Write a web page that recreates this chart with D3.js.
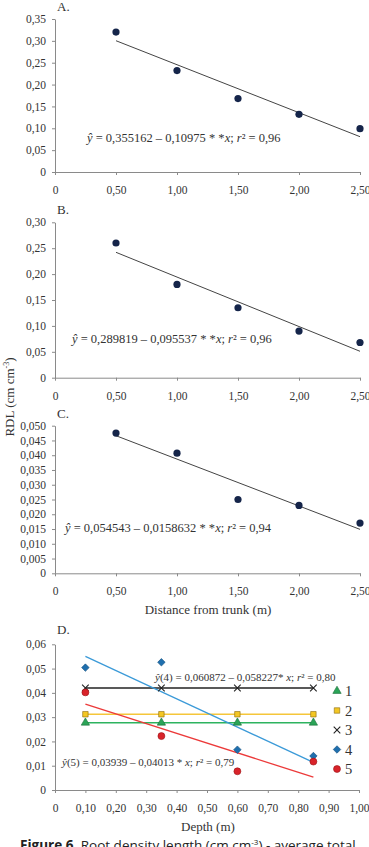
<!DOCTYPE html>
<html>
<head>
<meta charset="utf-8">
<script src="https://cdn.jsdelivr.net/npm/d3@7"></script>
<style>
  html, body { margin: 0; padding: 0; background: #fff; }
  svg { display: block; font-family: "Liberation Serif", "DejaVu Serif", serif; }
</style>
</head>
<body>
<div id="chart"></div>
<script>
// Distance from trunk (m) - panels A, B, C
const distancias = [0.5, 1.0, 1.5, 2.0, 2.5];
const rdlA = [0.320, 0.232, 0.168, 0.132, 0.099];
const rdlB = [0.260, 0.180, 0.135, 0.090, 0.068];
const rdlC = [0.0475, 0.0407, 0.0250, 0.0230, 0.0170];

// Coeficients de regressió (a - b*x)
const regA = [0.355162, 0.10975];
const regB = [0.289819, 0.095537];
const regC = [0.054543, 0.0158632];

// Panel D - Depth (m)
const profunditats = [0.10, 0.35, 0.60, 0.85];
const serie1 = [0.0277, 0.0277, 0.0277, 0.0277];
const serie2 = [0.0312, 0.0312, 0.0312, 0.0312];
const serie3 = [0.0420, 0.0420, 0.0420, 0.0420];
const serie4 = [0.0504, 0.0526, 0.0166, 0.0140];
const serie5 = [0.0402, 0.0222, 0.0077, 0.0117];
const reg4 = [0.060872, 0.058227];
const reg5 = [0.03939, 0.04013];

const ticksA = [0, 0.05, 0.10, 0.15, 0.20, 0.25, 0.30, 0.35];
const ticksB = [0, 0.05, 0.10, 0.15, 0.20, 0.25, 0.30];
const ticksC = [0, 0.005, 0.010, 0.015, 0.020, 0.025, 0.030, 0.035, 0.040, 0.045, 0.050];
const ticksD = [0, 0.01, 0.02, 0.03, 0.04, 0.05, 0.06];
const ticksDistancia = [0, 0.5, 1.0, 1.5, 2.0, 2.5];
const ticksProf = [0, 0.1, 0.2, 0.3, 0.4, 0.5, 0.6, 0.7, 0.8, 0.9, 1.0];

const W = 369, H = 847;
const svg = d3.select("#chart").append("svg")
    .attr("width", W).attr("height", H);

const coma = (dec) => (v) => v === 0 ? "0" : v.toFixed(dec).replace(".", ",");
const axisColor = "#8a8a8a";

function styleAxis(g) {
    g.select(".domain").attr("stroke", axisColor);
    g.selectAll(".tick line").attr("stroke", axisColor);
    g.selectAll(".tick text")
        .attr("fill", "#333")
        .style("font-size", "11.5px")
        .style("font-family", "Liberation Serif, serif");
}

function equacio(g, x, y, pre, a, b, post, size) {
    const t = g.append("text")
        .attr("x", x).attr("y", y)
        .attr("fill", "#333")
        .style("font-size", size + "px");
    t.append("tspan").style("font-style", "italic").text(pre.italic);
    if (pre.rest) t.append("tspan").text(pre.rest);
    t.append("tspan").text(` = ${a} – ${b}`);
    t.append("tspan").style("font-style", "italic").text(post.x);
    t.append("tspan").text("; ");
    t.append("tspan").style("font-style", "italic").text("r");
    t.append("tspan").text(`² = ${post.r2}`);
}

// Panells A, B, C
const panells = [
    { lletra: "A.", vals: rdlA, reg: regA, ticks: ticksA, dec: 2, max: 0.35, y0: 172, y1: 19,
      eq: { x: 87, y: 142, a: "0,355162", b: "0,10975 * *", r2: "0,96" } },
    { lletra: "B.", vals: rdlB, reg: regB, ticks: ticksB, dec: 2, max: 0.30, y0: 377.7, y1: 222.3,
      eq: { x: 72, y: 343, a: "0,289819", b: "0,095537 * *", r2: "0,96" } },
    { lletra: "C.", vals: rdlC, reg: regC, ticks: ticksC, dec: 3, max: 0.05, y0: 573.3, y1: 425.7,
      eq: { x: 65, y: 532, a: "0,054543", b: "0,0158632 * *", r2: "0,94" } }
];

const x = d3.scaleLinear().domain([0, 2.5]).range([55, 360]);

panells.forEach(p => {
    const g = svg.append("g");
    const y = d3.scaleLinear().domain([0, p.max]).range([p.y0, p.y1]);

    const ya = g.append("g")
        .attr("transform", `translate(${x(0)},0)`)
        .call(d3.axisLeft(y).tickValues(p.ticks).tickFormat(coma(p.dec)).tickSizeOuter(0).tickSizeInner(3).tickPadding(6));
    styleAxis(ya);

    const xa = g.append("g")
        .attr("transform", `translate(0,${p.y0})`)
        .call(d3.axisBottom(x).tickValues(ticksDistancia).tickFormat(coma(2)).tickSizeOuter(0).tickSizeInner(3).tickPadding(11));
    styleAxis(xa);

    // recta de regressió
    const [a, b] = p.reg;
    g.append("line")
        .attr("x1", x(0.5)).attr("y1", y(a - b * 0.5))
        .attr("x2", x(2.5)).attr("y2", y(a - b * 2.5))
        .attr("stroke", "#444").attr("stroke-width", 1);

    g.selectAll("circle")
        .data(distancias)
        .join("circle")
        .attr("cx", d => x(d))
        .attr("cy", (d, i) => y(p.vals[i]))
        .attr("r", 3.6)
        .attr("fill", "#15254a");

    g.append("text")
        .attr("x", 57).attr("y", p.y1 - 8)
        .attr("fill", "#333")
        .style("font-size", "13px")
        .text(p.lletra);

    equacio(g, p.eq.x, p.eq.y, { italic: "ŷ" }, p.eq.a, p.eq.b, { x: "x", r2: p.eq.r2 }, 12.5);
});

// Títol eix x
svg.append("text")
    .attr("x", 208).attr("y", 614)
    .attr("text-anchor", "middle")
    .attr("fill", "#333")
    .style("font-size", "13px")
    .text("Distance from trunk (m)");

// Títol eix y
const ylab = svg.append("text")
    .attr("transform", "translate(14,397) rotate(-90)")
    .attr("text-anchor", "middle")
    .attr("fill", "#333")
    .style("font-size", "13px");
ylab.append("tspan").text("RDL (cm cm");
ylab.append("tspan").attr("dy", -5).style("font-size", "8px").text("-3");
ylab.append("tspan").attr("dy", 5).text(")");

// Panell D
const gD = svg.append("g");
const xD = d3.scaleLinear().domain([0, 1]).range([55, 359]);
const yD = d3.scaleLinear().domain([0, 0.06]).range([790, 644.3]);

const yaD = gD.append("g")
    .attr("transform", `translate(${xD(0)},0)`)
    .call(d3.axisLeft(yD).tickValues(ticksD).tickFormat(coma(2)).tickSizeOuter(0).tickSizeInner(3).tickPadding(6));
styleAxis(yaD);

const xaD = gD.append("g")
    .attr("transform", `translate(0,790)`)
    .call(d3.axisBottom(xD).tickValues(ticksProf).tickFormat(coma(2)).tickSizeOuter(0).tickSizeInner(3).tickPadding(11));
styleAxis(xaD);

gD.append("text")
    .attr("x", 57).attr("y", 634)
    .attr("fill", "#333")
    .style("font-size", "13px")
    .text("D.");

const series = [
    { nom: "1", vals: serie1, color: "#2aa457", simbol: "triangle", stroke: "#1a6b38" },
    { nom: "2", vals: serie2, color: "#f3c623", simbol: "square", stroke: "#8a6a10" },
    { nom: "3", vals: serie3, color: "#222", simbol: "times", stroke: "#222" },
    { nom: "4", vals: serie4, color: "#1f6fae", simbol: "diamond", stroke: "#15507f" },
    { nom: "5", vals: serie5, color: "#d9232a", simbol: "circle", stroke: "#9a1418" }
];
const colorsLinia = { "1": "#2db35f", "2": "#f5c63a", "3": "#222", "4": "#3b9ad8", "5": "#ec3a3a" };

// línies: mitjanes per 1,2,3 i regressions per 4,5
series.slice(0, 3).forEach(s => {
    const m = d3.mean(s.vals);
    gD.append("line")
        .attr("x1", xD(0.10)).attr("x2", xD(0.85))
        .attr("y1", yD(m)).attr("y2", yD(m))
        .attr("stroke", colorsLinia[s.nom]).attr("stroke-width", 1.3);
});
[[reg4, "4"], [reg5, "5"]].forEach(([r, k]) => {
    gD.append("line")
        .attr("x1", xD(0.10)).attr("y1", yD(r[0] - r[1] * 0.10))
        .attr("x2", xD(0.85)).attr("y2", yD(r[0] - r[1] * 0.85))
        .attr("stroke", colorsLinia[k]).attr("stroke-width", 1.3);
});

function marca(g, s, cx, cy) {
    let tipus, mida, rot = 0;
    if (s.simbol === "triangle") { tipus = d3.symbolTriangle; mida = 30; }
    else if (s.simbol === "square") { tipus = d3.symbolSquare; mida = 30; }
    else if (s.simbol === "times") { tipus = d3.symbolTimes; mida = 30; }
    else if (s.simbol === "diamond") { tipus = d3.symbolSquare; mida = 28; rot = 45; }
    else { tipus = d3.symbolCircle; mida = 38; }
    const p = g.append("path")
        .attr("transform", `translate(${cx},${cy}) rotate(${rot})`)
        .attr("d", d3.symbol().type(tipus).size(mida)());
    if (s.simbol === "times") {
        p.attr("fill", "none").attr("stroke", s.color).attr("stroke-width", 1.1);
    } else {
        p.attr("fill", s.color).attr("stroke", s.stroke).attr("stroke-width", 0.6);
    }
}

series.forEach(s => {
    s.vals.forEach((v, i) => marca(gD, s, xD(profunditats[i]), yD(v)));
});

// Llegenda
series.forEach((s, i) => {
    const ly = 691 + i * 19.5;
    marca(gD, s, 337, ly);
    gD.append("text")
        .attr("x", 345).attr("y", ly + 5)
        .attr("fill", "#333")
        .style("font-size", "14.5px")
        .text(s.nom);
});

equacio(gD, 155, 681, { italic: "ŷ", rest: "(4)" }, "0,060872", "0,058227* ", { x: "x", r2: "0,80" }, 11);
equacio(gD, 62, 766, { italic: "ŷ", rest: "(5)" }, "0,03939", "0,04013 * ", { x: "x", r2: "0,79" }, 11);

svg.append("text")
    .attr("x", 208).attr("y", 831)
    .attr("text-anchor", "middle")
    .attr("fill", "#333")
    .style("font-size", "13px")
    .text("Depth (m)");

// Peu de figura
const cap = svg.append("text")
    .attr("x", 20).attr("y", 850)
    .attr("fill", "#222")
    .style("font-family", "Open Sans, sans-serif")
    .style("font-size", "13.5px");
cap.append("tspan").style("font-weight", "bold").text("Figure 6.");
cap.append("tspan").text(" Root density length (cm cm");
cap.append("tspan").attr("dy", -5).style("font-size", "8px").text("-3");
cap.append("tspan").attr("dy", 5).text(") - average total");
</script>
</body>
</html>
